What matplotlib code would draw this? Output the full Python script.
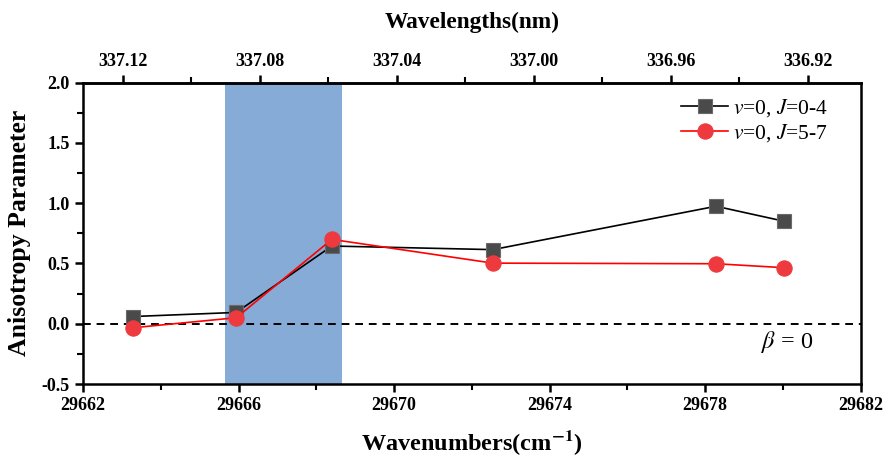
import matplotlib
matplotlib.use('Agg')
import matplotlib.pyplot as plt
from matplotlib.ticker import MultipleLocator, FixedLocator, FormatStrFormatter

plt.rcParams.update({
    'font.family': 'Liberation Serif',
    'mathtext.fontset': 'stix',
    'axes.linewidth': 1.8,
})

# data
wn_j04 = [29663.29, 29665.94, 29668.40, 29672.54, 29678.28, 29680.04]
beta_j04 = [0.06, 0.094, 0.645, 0.615, 0.975, 0.85]
wn_j57 = [29663.29, 29665.94, 29668.40, 29672.54, 29678.28, 29680.04]
beta_j57 = [-0.033, 0.05, 0.70, 0.503, 0.498, 0.465]
band = (29665.65, 29668.66)
wn_ticks = [29662, 29666, 29670, 29674, 29678, 29682]
wn_minor = [29664, 29668, 29672, 29676, 29680]
wl_ticks = [337.12, 337.08, 337.04, 337.00, 336.96, 336.92]
wl_minor = [337.10, 337.06, 337.02, 336.98, 336.94]

fig = plt.figure(figsize=(8.86, 4.57), dpi=100)
ax = fig.add_axes([0.0937, 0.1597, 0.8777, 0.6593])

ax.axvspan(band[0], band[1], color='#85abd6', lw=0, zorder=0)
ax.axhline(0, color='black', ls=(0, (4, 3)), lw=1.4, zorder=1)

ax.plot(wn_j04, beta_j04, '-', color='black', lw=1.2, marker='s', ms=10,
        mfc='#4a4a4a', mec='#6a6a6a', mew=0.8, zorder=3, label=r'$v$=0, $J$=0-4')
ax.plot(wn_j57, beta_j57, '-', color='red', lw=1.2, marker='o', ms=11,
        mfc='#ee3a3e', mec='#ee3a3e', mew=0.8, zorder=4, label=r'$v$=0, $J$=5-7')

ax.set_xlim(29662, 29682)
ax.set_ylim(-0.5, 2.0)
ax.xaxis.set_major_locator(FixedLocator(wn_ticks))
ax.xaxis.set_minor_locator(FixedLocator(wn_minor))
ax.yaxis.set_major_locator(MultipleLocator(0.5))
ax.yaxis.set_minor_locator(MultipleLocator(0.25))
ax.yaxis.set_major_formatter(FormatStrFormatter('%.1f'))
ax.tick_params(which='major', direction='out', length=6, width=1.8, labelsize=13)
ax.tick_params(which='minor', direction='out', length=4, width=1.5)
for lab in ax.get_xticklabels() + ax.get_yticklabels():
    lab.set_fontweight('bold')

ax.set_xlabel('Wavenumbers(cm$^{\\mathbf{-1}}$)', fontsize=17.5, fontweight='bold', labelpad=10)
ax.set_ylabel('Anisotropy Parameter', fontsize=18.5, fontweight='bold', labelpad=8)

top = ax.secondary_xaxis('top', functions=(lambda x: 1e7 / x, lambda x: 1e7 / x))
top.xaxis.set_major_locator(FixedLocator(wl_ticks))
top.xaxis.set_minor_locator(FixedLocator(wl_minor))
top.xaxis.set_major_formatter(FormatStrFormatter('%.2f'))
top.tick_params(which='major', direction='out', length=6, width=1.8, labelsize=13)
top.tick_params(which='minor', direction='out', length=4, width=1.5)
for lab in top.get_xticklabels():
    lab.set_fontweight('bold')
top.set_xlabel('Wavelengths(nm)', fontsize=16.8, fontweight='bold', labelpad=18)

ax.text(29680.1, -0.155, r'$\beta$ = 0', fontsize=17.5, ha='center', va='center')

leg = ax.legend(loc='upper right', frameon=False, fontsize=15.5, handlelength=2.2,
                handletextpad=0.2, labelspacing=0.15, borderaxespad=0.4,
                bbox_to_anchor=(0.98, 1.01))

fig.savefig('out.png', dpi=100)
